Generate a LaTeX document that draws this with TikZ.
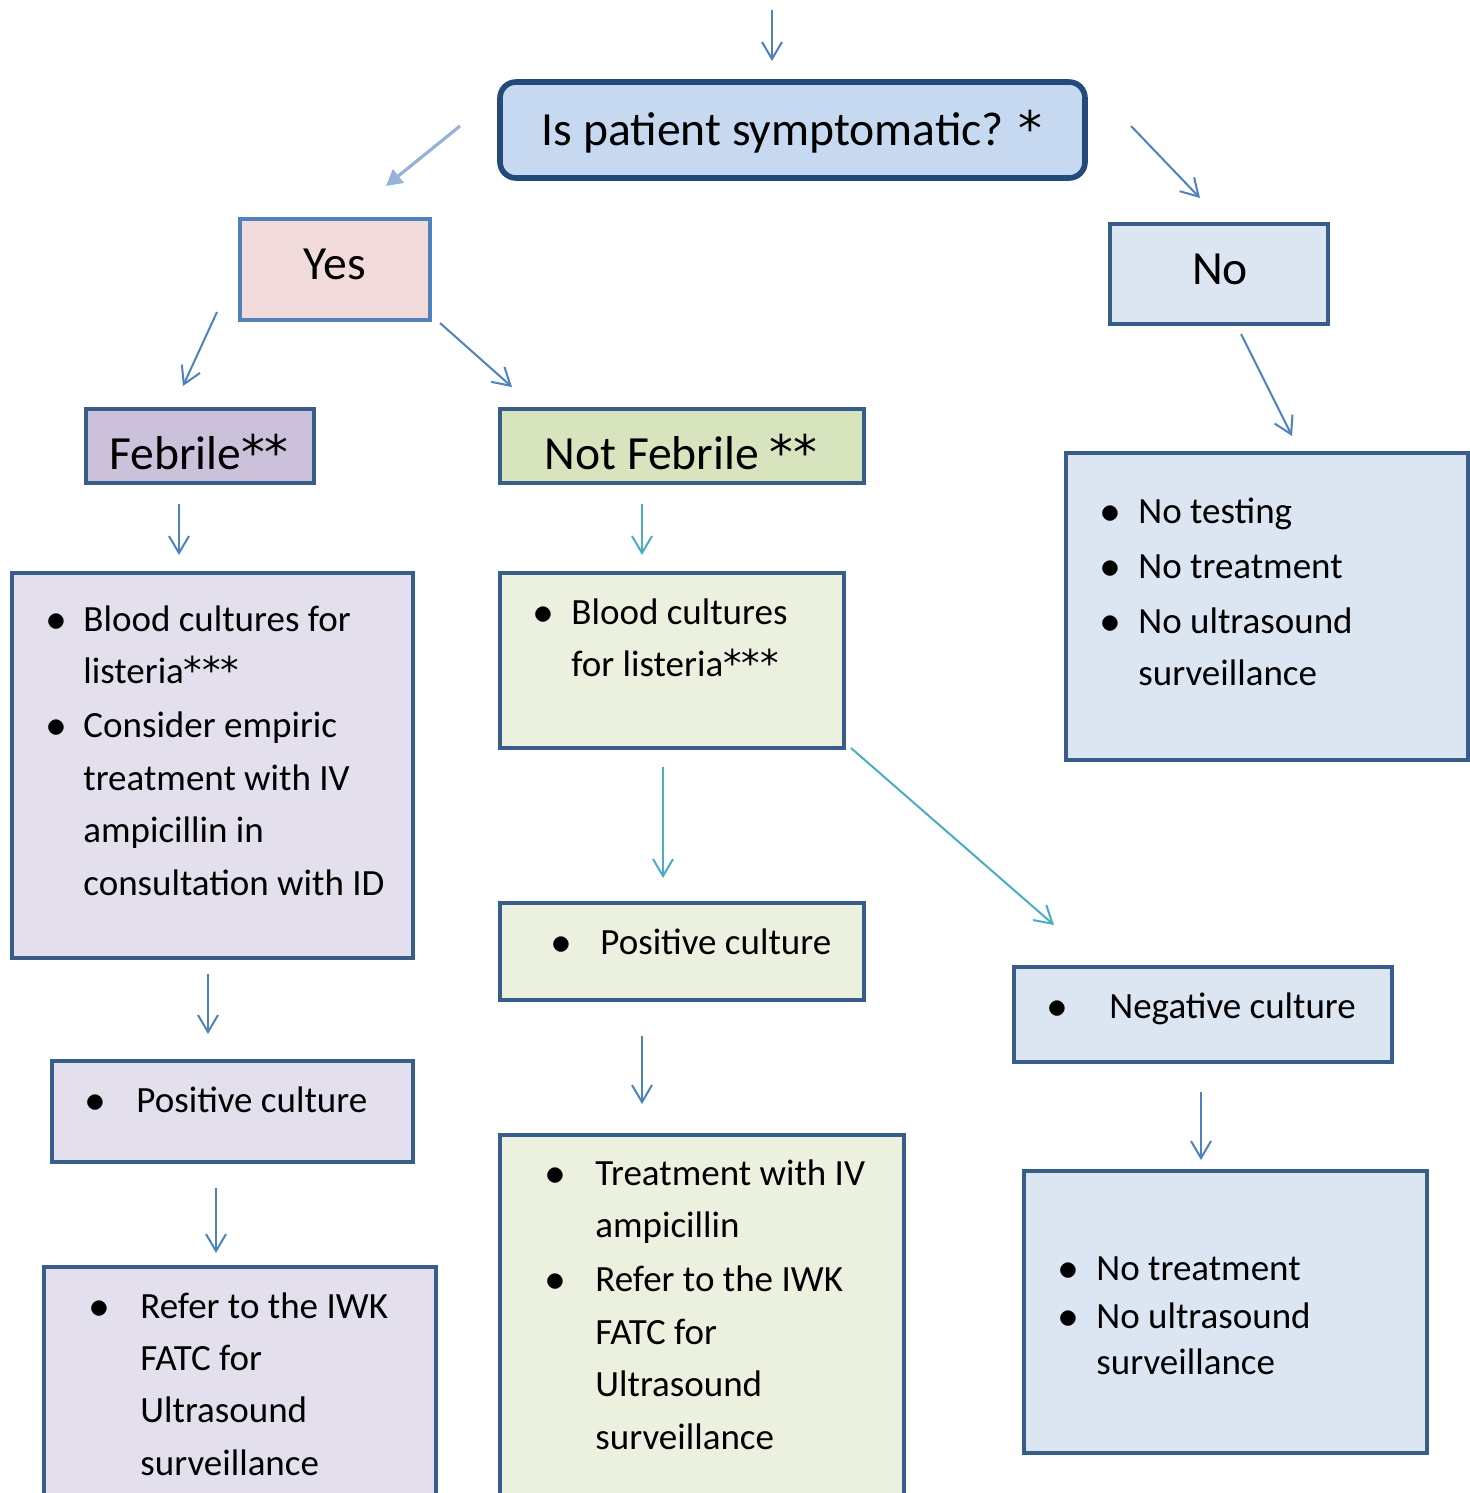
\documentclass[tikz,border=0pt]{standalone}
\usepackage{fontspec}
\setmainfont{Carlito}
\newfontfamily\astfont{DejaVu Sans}
\usepackage{graphicx}
\usetikzlibrary{fit,positioning,arrows.meta}

\definecolor{qfill}{HTML}{C6D9F1}
\definecolor{qline}{HTML}{244A7C}
\definecolor{yesfill}{HTML}{F2DCDB}
\definecolor{bluefill}{HTML}{DCE6F2}
\definecolor{febfill}{HTML}{CCC1DA}
\definecolor{nffill}{HTML}{D7E4BD}
\definecolor{purfill}{HTML}{E4DFEC}
\definecolor{grnfill}{HTML}{EBF1DE}
\definecolor{boxline}{HTML}{385D8A}
\definecolor{arrblue}{HTML}{4F81BD}
\definecolor{arrcyan}{HTML}{4BACC6}
\definecolor{arrpale}{HTML}{95B3D7}

\newcommand\bul{\makebox[0pt]{\scalebox{1.15}{$\bullet$}}}
\newcommand\blist[2]{\begin{tabular}[t]{@{}p{#1}@{}l@{}}#2\end{tabular}}
\newcommand\st{\makebox[0.5em]{\astfont *}}

\begin{document}
\begin{tikzpicture}[x=0.5pt,y=-0.5pt,
  box/.style={draw=boxline, line width=2pt, inner sep=0pt, outer sep=0pt},
  big/.style={inner sep=0pt, font=\fontsize{23.8}{28}\selectfont},
  txt/.style={inner sep=0pt, anchor=base west, font=\fontsize{18.5}{26.2}\selectfont},
  arr/.style={draw=arrblue, line width=1pt, -{Straight Barb[length=8.5pt,width=10pt]}},
  arrc/.style={arr, draw=arrcyan},
  arrfat/.style={draw=arrpale, line width=1.6pt, -{Triangle[length=8pt,width=8.5pt]}}]

\useasboundingbox (0,0) rectangle (1470,1493);
\clip (0,0) rectangle (1470,1493);

% question and answers
\node[box, draw=qline, line width=2.8pt, rounded corners=8pt, fill=qfill, fit={(500,82) (1085,178)}] (q) {};
\node[big, anchor=base] (qtext) at (792,146) {Is patient symptomatic? \st};
\node[box, draw=arrblue, fill=yesfill, fit={(240,219) (430,320)}] (yes) {};
\node[big, anchor=base] (yestext) at (335,279) {Yes};
\node[box, fill=bluefill, fit={(1110,224) (1328,324)}] (no) {};
\node[big, anchor=base] (notext) at (1220,284) {No};

% febrile / not febrile
\node[box, fill=febfill, fit={(86,409) (314,483)}] (feb) {};
\node[big, anchor=base] (febtext) at (199,469) {Febrile\st\st};
\node[box, fill=nffill, fit={(500,409) (864,483)}] (nfeb) {};
\node[big, anchor=base] (nfebtext) at (681,469) {Not Febrile \st\st};

% febrile column
\node[box, fill=purfill, fit={(12,573) (413,958)}] (febone) {};
\node[txt] (febonetext) at (56,631) {\blist{13.5pt}{\bul & Blood cultures for\\ & listeria\st\st\st\\[1pt]
  \bul & Consider empiric\\ & treatment with IV\\ & ampicillin in\\ & consultation with ID}};
\node[box, fill=purfill, fit={(52,1061) (413,1162)}] (febpos) {};
\node[txt] (febpostext) at (95,1112) {\blist{20.5pt}{\bul & Positive culture}};
\node[box, fill=purfill, fit={(44,1267) (436,1520)}] (febref) {};
\node[txt] (febreftext) at (99,1318) {\blist{20.5pt}{\bul & Refer to the IWK\\ & FATC for\\ & Ultrasound\\ & surveillance}};

% not febrile column
\node[box, fill=grnfill, fit={(500,573) (844,748)}] (nfone) {};
\node[txt] (nfonetext) at (543,624) {\blist{14pt}{\bul & Blood cultures\\ & for listeria\st\st\st}};
\node[box, fill=grnfill, fit={(500,903) (864,1000)}] (nfpos) {};
\node[txt] (nfpostext) at (561,954) {\blist{19.5pt}{\bul & Positive culture}};
\node[box, fill=grnfill, fit={(500,1135) (904,1520)}] (nftreat) {};
\node[txt] (nftreattext) at (555,1185) {\blist{20pt}{\bul & Treatment with IV\\ & ampicillin\\[1pt]
  \bul & Refer to the IWK\\ & FATC for\\ & Ultrasound\\ & surveillance}};

% asymptomatic / negative column
\node[box, fill=bluefill, fit={(1066,453) (1468,760)}] (noone) {};
\node[txt] (noonetext) at (1110,523) {\blist{14pt}{\bul & No testing\\[1.3pt] \bul & No treatment\\[1.3pt]
  \bul & No ultrasound\\ & surveillance}};
\node[box, fill=bluefill, fit={(1014,967) (1392,1062)}] (neg) {};
\node[txt] (negtext) at (1057,1018) {\blist{26pt}{\bul & Negative culture}};
\node[box, fill=bluefill, fit={(1024,1171) (1427,1453)}] (negend) {};
\node[txt, font=\fontsize{18.5}{23.2}\selectfont] (negendtext) at (1068,1280) {\blist{14pt}{\bul & No treatment\\[1pt]
  \bul & No ultrasound\\ & surveillance}};

% arrow ends
\coordinate (top1) at (772,10);   \coordinate (top2) at (772,61);
\coordinate (qy1) at (460,126);   \coordinate (qy2) at (386,186);
\coordinate (qn1) at (1131,126);  \coordinate (qn2) at (1200,198);
\coordinate (yf1) at (217,312);   \coordinate (yf2) at (183,386);
\coordinate (ynf1) at (440,323);  \coordinate (ynf2) at (512,387);
\coordinate (nn1) at (1241,334);  \coordinate (nn2) at (1292,436);
\coordinate (ff1) at (179,504);   \coordinate (ff2) at (179,555);
\coordinate (nff1) at (642,504);  \coordinate (nff2) at (642,555);
\coordinate (fp1) at (208,974);   \coordinate (fp2) at (208,1034);
\coordinate (fr1) at (216,1188);  \coordinate (fr2) at (216,1253);
\coordinate (np1) at (663,767);   \coordinate (np2) at (663,878);
\coordinate (ng1) at (851,748);   \coordinate (ng2) at (1054,925);
\coordinate (nt1) at (642,1036);  \coordinate (nt2) at (642,1104);
\coordinate (ne1) at (1201,1092); \coordinate (ne2) at (1201,1160);

\draw[arr] (top1) -- (top2);
\draw[arrfat] (qy1) -- (qy2);
\draw[arr] (qn1) -- (qn2);
\draw[arr] (yf1) -- (yf2);
\draw[arr] (ynf1) -- (ynf2);
\draw[arr] (nn1) -- (nn2);
\draw[arr] (ff1) -- (ff2);
\draw[arrc] (nff1) -- (nff2);
\draw[arr] (fp1) -- (fp2);
\draw[arr] (fr1) -- (fr2);
\draw[arrc] (np1) -- (np2);
\draw[arrc] (ng1) -- (ng2);
\draw[arr] (nt1) -- (nt2);
\draw[arr] (ne1) -- (ne2);
\end{tikzpicture}
\end{document}
